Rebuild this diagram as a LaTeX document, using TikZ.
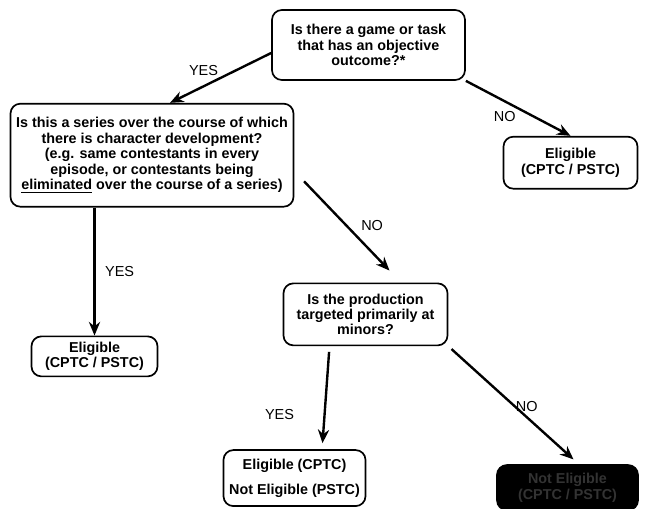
\documentclass[tikz,border=0pt]{standalone}
\usepackage{fontspec}
\setmainfont{Liberation Sans}
\usetikzlibrary{arrows.meta, positioning}
\tikzset{
  block/.style={rectangle, draw, line width=1.2pt, rounded corners=7pt, align=center,
    font=\fontsize{10.2}{11}\selectfont\bfseries, inner sep=2pt, fill=white},
  dark/.style={block, fill=black, text=black!80},
  arr/.style={-{Stealth[length=3.4mm, width=2.8mm]}, line width=1.7pt},
  lbl/.style={font=\fontsize{10.3}{12}\selectfont, inner sep=1pt},
}

\begin{document}
\begin{tikzpicture}[node distance=0.5cm]
  \useasboundingbox (0,0) rectangle (16.175,-12.7);

  % First question
  \node[block, minimum width=4.825cm, minimum height=1.75cm] (game) at (9.2125,-1.125)
    {Is there a game or task\\that has an objective\\outcome?*};

  % Second question
  \node[block, minimum width=7.075cm, minimum height=2.575cm, below=0.55cm of game, xshift=-5.4125cm] (series)
    {Is this a series over the course of which\\there is character development?\\(e.g. same contestants in every\\episode, or contestants being\\\underline{eliminated} over the course of a series)};
  \node[block, minimum width=3.35cm, minimum height=1.3cm, below=1.375cm of game, xshift=5.05cm] (eligR)
    {Eligible\\(CPTC / PSTC)};

  % Third question
  \node[block, minimum width=4.1cm, minimum height=1.55cm, below=1.875cm of series, xshift=5.3375cm] (minors)
    {Is the production\\targeted primarily at\\minors?};
  \node[block, minimum width=3.15cm, minimum height=1cm, below=3.2cm of series, xshift=-1.4375cm] (eligL)
    {Eligible\\(CPTC / PSTC)};

  % Outcomes
  \node[block, minimum width=3.55cm, minimum height=1.4cm, below=2.575cm of minors, xshift=-1.775cm] (both)
    {Eligible (CPTC)\\[7pt]Not Eligible (PSTC)};
  \node[dark, minimum width=3.525cm, minimum height=1.125cm, below=2.95cm of minors, xshift=5.05cm] (notel)
    {Not Eligible\\(CPTC / PSTC)};

  \draw[arr] ([yshift=-0.2cm]game.west) -- ([xshift=0.45cm]series.north)
    node[lbl, midway, above left] {YES};
  \draw[arr] (game.south east) -- (eligR.north)
    node[lbl, midway, below left] {NO};
  \draw[arr] (series.south -| eligL.north) -- (eligL.north)
    node[lbl, midway, right=0.2cm] {YES};
  \draw[arr, shorten <=10pt] ([yshift=-0.4cm]series.east) -- ([xshift=0.6cm, yshift=0.3cm]minors.north)
    node[lbl, pos=0.55, right=0.3cm] {NO};
  \draw[arr, shorten <=4pt] ([xshift=-0.9cm]minors.south) -- ([xshift=0.7cm, yshift=0.15cm]both.north)
    node[lbl, pos=0.7, left=0.7cm] {YES};
  \draw[arr, shorten <=3pt] (minors.south east) -- ([xshift=0.15cm, yshift=0.12cm]notel.north)
    node[lbl, pos=0.53, right=-1pt] {NO};
\end{tikzpicture}
\end{document}
